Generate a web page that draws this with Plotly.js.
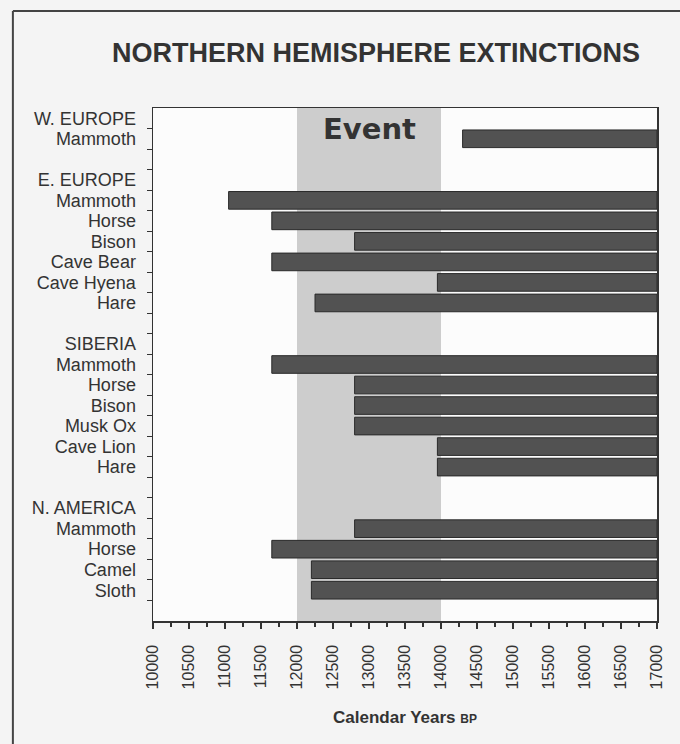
<!DOCTYPE html>
<html>
<head>
<meta charset="utf-8">
<script src="https://cdn.plot.ly/plotly-3.0.1.min.js"></script>
<style>
  html, body { margin: 0; padding: 0; background: #f4f4f4; overflow: hidden; }
  #plotter { width: 680px; height: 744px; }
</style>
</head>
<body>
<div id="plotter"></div>
<script>
// rows top to bottom, blank rows separate the regions
var rowLabels = ['W. EUROPE', 'Mammoth', '',
    'E. EUROPE', 'Mammoth', 'Horse', 'Bison', 'Cave Bear', 'Cave Hyena', 'Hare', '',
    'SIBERIA', 'Mammoth', 'Horse', 'Bison', 'Musk Ox', 'Cave Lion', 'Hare', '',
    'N. AMERICA', 'Mammoth', 'Horse', 'Camel', 'Sloth', ''];
// oldest-record start of each bar (calendar years BP), null = no bar
var startYears = [null, 14300, null,
    null, 11050, 11650, 12800, 11650, 13950, 12250, null,
    null, 11650, 12800, 12800, 12800, 13950, 13950, null,
    null, 12800, 11650, 12200, 12200, null];
var endYear = 17000;
var eventStart = 12000;
var eventEnd = 14000;
var xTicks = [10000, 10500, 11000, 11500, 12000, 12500, 13000, 13500,
    14000, 14500, 15000, 15500, 16000, 16500, 17000];

function plot() {
    var ys = [], lens = [], bases = [];
    for (var i = 0; i < rowLabels.length; i++) {
        if (startYears[i] !== null) {
            ys.push(i);
            bases.push(startYears[i]);
            lens.push(endYear - startYears[i]);
        }
    }
    var rows = rowLabels.map(function(d, i) { return i; });
    var bounds = rows.slice(0, rows.length - 1).map(function(i) { return i + 0.5; });

    var data = [{
        type: 'bar',
        orientation: 'h',
        y: ys,
        x: lens,
        base: bases,
        width: 0.86,
        marker: {color: '#525252', line: {color: '#2a2a2a', width: 1}},
        hoverinfo: 'skip'
    }];

    var layout = {
        width: 680,
        height: 744,
        margin: {l: 153, r: 23, t: 108, b: 123},
        paper_bgcolor: '#f4f4f4',
        plot_bgcolor: '#fcfcfc',
        showlegend: false,
        bargap: 0,
        title: {
            text: 'NORTHERN HEMISPHERE EXTINCTIONS',
            x: 0.553, xanchor: 'center',
            y: 0.930, yanchor: 'middle', yref: 'container',
            font: {family: 'Arial, Liberation Sans', size: 27, weight: 'bold', color: '#333'}
        },
        xaxis: {
            range: [10000, 17000],
            tickvals: xTicks,
            tickformat: 'd',
            tickangle: -90,
            ticks: 'outside', ticklen: 6, tickcolor: '#333', tickwidth: 1.5,
            ticklabelstandoff: 10,
            minor: {dtick: 250, ticks: 'outside', ticklen: 4, tickcolor: '#333'},
            tickfont: {family: 'Arial, Liberation Sans', size: 16, color: '#333'},
            showgrid: false, zeroline: false,
            showline: true, mirror: true, linecolor: '#333', linewidth: 1.5,
            title: {
                text: 'Calendar Years <span style="font-size:12px">BP</span>',
                standoff: 22,
                font: {family: 'Arial, Liberation Sans', size: 17, weight: 'bold', color: '#333'}
            }
        },
        yaxis: {
            range: [rowLabels.length - 0.5, -0.5],
            tickvals: rows,
            ticktext: rowLabels,
            ticks: '',
            ticklabelstandoff: 12,
            minor: {tickvals: bounds, ticks: 'outside', ticklen: 5, tickcolor: '#333', showgrid: false},
            tickfont: {family: 'Arial, Liberation Sans', size: 18, color: '#333'},
            showgrid: false, zeroline: false,
            showline: true, mirror: true, linecolor: '#333', linewidth: 1.5
        },
        shapes: [{
            type: 'rect', layer: 'below',
            xref: 'x', yref: 'paper',
            x0: eventStart, x1: eventEnd, y0: 0, y1: 1,
            fillcolor: '#cdcdcd', line: {width: 0}
        }, {
            // outer frame of the figure: only its left and top edges are in view
            type: 'line',
            xref: 'paper', yref: 'paper',
            x0: -0.278, x1: -0.278, y0: -0.4, y1: 1.189,
            line: {color: '#444', width: 2}
        }, {
            type: 'line',
            xref: 'paper', yref: 'paper',
            x0: -0.278, x1: 1.05, y0: 1.189, y1: 1.189,
            line: {color: '#444', width: 2}
        }],
        annotations: [{
            text: 'Event',
            xref: 'x', yref: 'paper',
            x: (eventStart + eventEnd) / 2, y: 0.997,
            yanchor: 'top',
            showarrow: false,
            font: {family: 'DejaVu Sans', size: 29, weight: 'bold', color: '#333'}
        }]
    };

    Plotly.newPlot('plotter', data, layout, {staticPlot: true});
}
plot();
</script>
</body>
</html>
